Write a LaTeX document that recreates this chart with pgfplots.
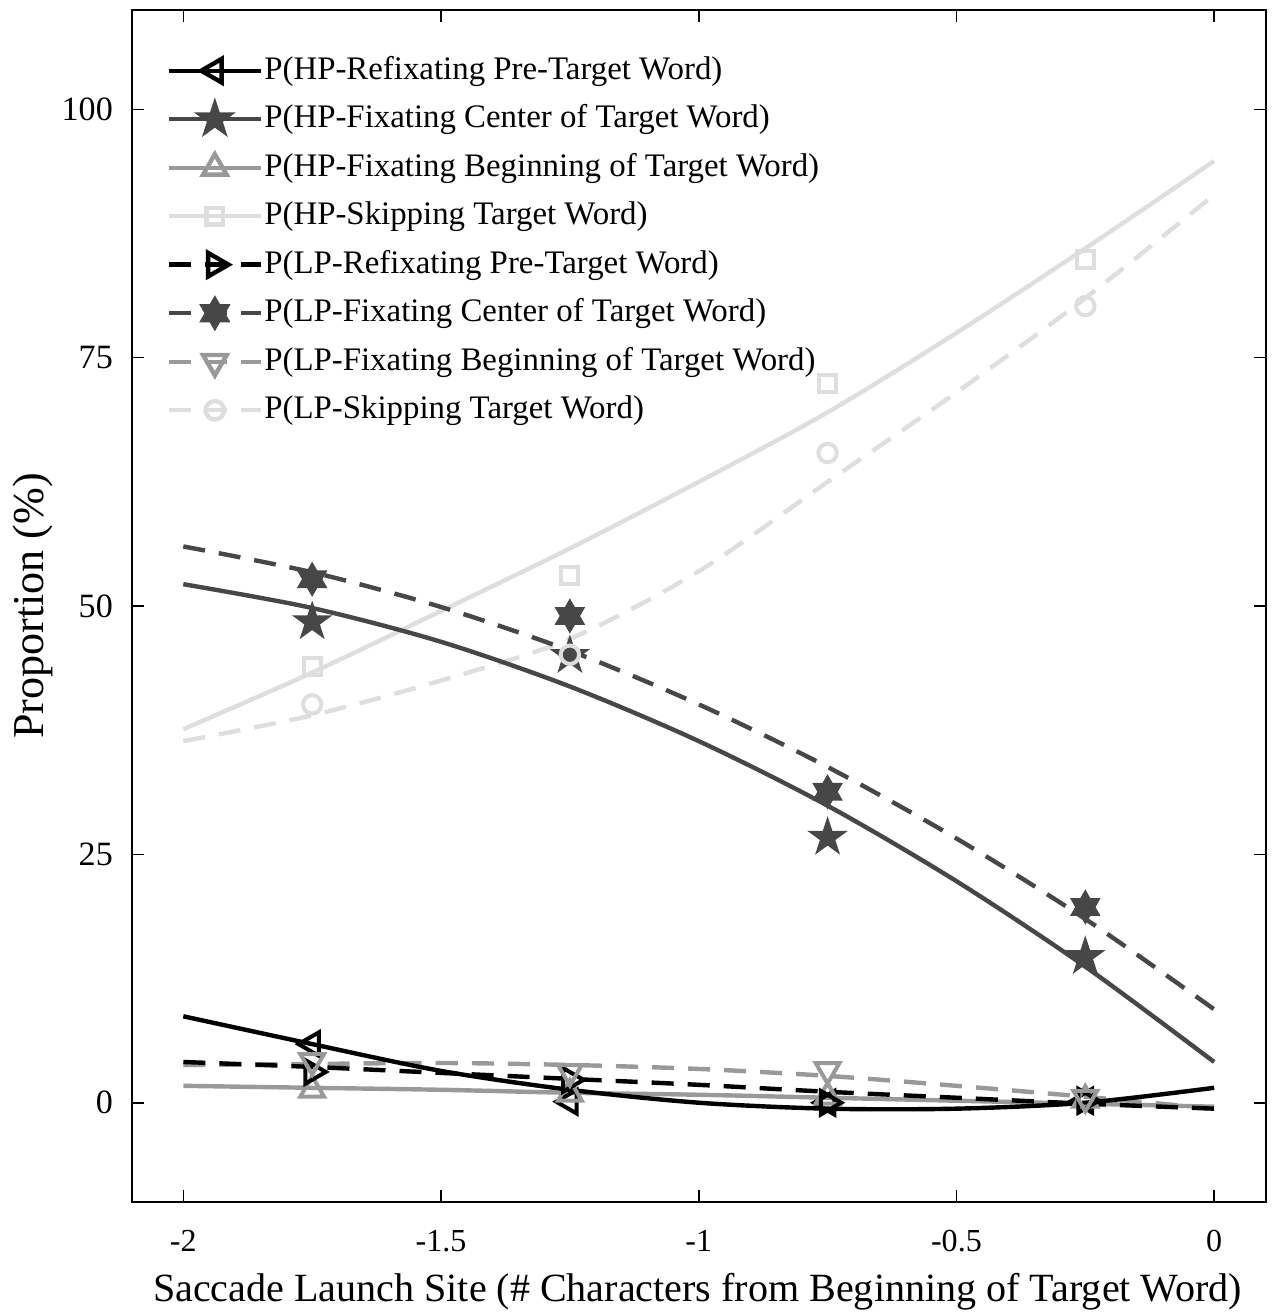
\documentclass[border=0pt]{standalone}
\usepackage{fontspec}
\setmainfont{Liberation Serif}
\usepackage{pgfplots}
\pgfplotsset{compat=1.18}

\definecolor{cA}{HTML}{000000}
\definecolor{cB}{HTML}{474747}
\definecolor{cC}{HTML}{999999}
\definecolor{cD}{HTML}{DEDEDE}

% filled star marks (MATLAB pentagram / hexagram)
\pgfdeclareplotmark{pentagram}{%
  \pgfpathmoveto{\pgfpointpolar{90}{\pgfplotmarksize}}%
  \pgfpathlineto{\pgfpointpolar{126}{0.382\pgfplotmarksize}}%
  \pgfpathlineto{\pgfpointpolar{162}{\pgfplotmarksize}}%
  \pgfpathlineto{\pgfpointpolar{198}{0.382\pgfplotmarksize}}%
  \pgfpathlineto{\pgfpointpolar{234}{\pgfplotmarksize}}%
  \pgfpathlineto{\pgfpointpolar{270}{0.382\pgfplotmarksize}}%
  \pgfpathlineto{\pgfpointpolar{306}{\pgfplotmarksize}}%
  \pgfpathlineto{\pgfpointpolar{342}{0.382\pgfplotmarksize}}%
  \pgfpathlineto{\pgfpointpolar{18}{\pgfplotmarksize}}%
  \pgfpathlineto{\pgfpointpolar{54}{0.382\pgfplotmarksize}}%
  \pgfpathclose
  \pgfusepathqfillstroke}
\pgfdeclareplotmark{hexagram}{%
  \pgfpathmoveto{\pgfpointpolar{90}{\pgfplotmarksize}}%
  \pgfpathlineto{\pgfpointpolar{120}{0.577\pgfplotmarksize}}%
  \pgfpathlineto{\pgfpointpolar{150}{\pgfplotmarksize}}%
  \pgfpathlineto{\pgfpointpolar{180}{0.577\pgfplotmarksize}}%
  \pgfpathlineto{\pgfpointpolar{210}{\pgfplotmarksize}}%
  \pgfpathlineto{\pgfpointpolar{240}{0.577\pgfplotmarksize}}%
  \pgfpathlineto{\pgfpointpolar{270}{\pgfplotmarksize}}%
  \pgfpathlineto{\pgfpointpolar{300}{0.577\pgfplotmarksize}}%
  \pgfpathlineto{\pgfpointpolar{330}{\pgfplotmarksize}}%
  \pgfpathlineto{\pgfpointpolar{0}{0.577\pgfplotmarksize}}%
  \pgfpathlineto{\pgfpointpolar{30}{\pgfplotmarksize}}%
  \pgfpathlineto{\pgfpointpolar{60}{0.577\pgfplotmarksize}}%
  \pgfpathclose
  \pgfusepathqfillstroke}

\pgfplotsset{
  fitline/.style={line width=1.1pt, smooth, mark=none},
  dsh/.style={dash pattern=on 5.5pt off 3.5pt},
  pts/.style={only marks, line width=1pt, mark options={solid}},
  mHPr/.style={mark=triangle, mark size=3.4pt, mark options={solid, rotate=90}},
  mLPr/.style={mark=triangle, mark size=3.4pt, mark options={solid, rotate=-90}},
  mHPb/.style={mark=triangle, mark size=3.4pt, mark options={solid}},
  mLPb/.style={mark=triangle, mark size=3.4pt, mark options={solid, rotate=180}},
  mHPc/.style={mark=pentagram, mark size=3.7pt, mark options={solid, fill=cB}},
  mLPc/.style={mark=hexagram, mark size=3.4pt, mark options={solid, fill=cB}},
  mHPs/.style={mark=square, mark size=2.1pt, mark options={solid}},
  mLPs/.style={mark=o, mark size=2.3pt, mark options={solid}},
}

\begin{document}
\begin{tikzpicture}
\begin{axis}[
  scale only axis, width=283pt, height=297.5pt,
  xmin=-2.1, xmax=0.1, ymin=-10, ymax=110,
  xtick={-2,-1.5,-1,-0.5,0}, ytick={0,25,50,75,100},
  tick align=inside, major tick length=3pt,
  axis line style={line width=0.5pt}, every tick/.style={black, line width=0.4pt},
  /pgf/number format/assume math mode=true,
  xticklabel style={font=\fontsize{8}{10}\selectfont, yshift=-3.6pt},
  yticklabel style={font=\fontsize{8.5}{10}\selectfont, xshift=-1.2pt},
  xlabel={Saccade Launch Site (\# Characters from Beginning of Target Word)},
  ylabel={Proportion (\%)},
  xlabel style={font=\fontsize{10}{12}\selectfont, inner sep=0.6pt,
    at={(axis description cs:0.499,-0.0756)}, anchor=center},
  ylabel style={font=\fontsize{11}{13}\selectfont,
    at={(axis description cs:-0.0868,0.5)}, anchor=center},
  legend style={at={(rel axis cs:0.0300,0.963)}, anchor=north west, draw=none, fill=none,
    inner sep=0pt, row sep=4.25pt, font=\fontsize{8.2}{10}\selectfont,
    nodes={inner sep=0.3pt}},
  legend cell align=left,
  legend image code/.code={\draw[mark repeat=2,mark phase=2] plot coordinates {(0pt,0pt) (11.5pt,0pt) (23pt,0pt)};},
]
% fitted curves
\addplot[fitline, cD, forget plot] coordinates {(-2,37.6) (-1.75,43.3) (-1.5,49.5) (-1.25,55.8) (-1,62.5) (-0.75,69.5) (-0.5,77.5) (-0.25,86.0) (0,94.8)};
\addplot[fitline, dsh, cD, forget plot] coordinates {(-2,36.4) (-1.75,39.0) (-1.5,42.5) (-1.25,46.7) (-1,53.5) (-0.75,62.5) (-0.5,71.5) (-0.25,81.0) (0,91.4)};
\addplot[fitline, cC, forget plot] coordinates {(-2,1.7) (-1.75,1.5) (-1.5,1.3) (-1.25,1.0) (-1,0.8) (-0.75,0.5) (-0.5,0.2) (-0.25,-0.1) (0,-0.4)};
\addplot[fitline, dsh, cC, forget plot] coordinates {(-2,3.8) (-1.75,3.9) (-1.5,4.0) (-1.25,3.8) (-1,3.4) (-0.75,2.7) (-0.5,1.7) (-0.25,0.6) (0,-0.6)};
\addplot[fitline, cB, forget plot] coordinates {(-2,52.2) (-1.75,49.8) (-1.5,46.4) (-1.25,41.9) (-1,36.4) (-0.75,29.9) (-0.5,22.3) (-0.25,13.7) (0,4.1)};
\addplot[fitline, dsh, cB, forget plot] coordinates {(-2,56.0) (-1.75,53.4) (-1.5,49.9) (-1.25,45.5) (-1,40.1) (-0.75,33.8) (-0.5,26.6) (-0.25,18.5) (0,9.4)};
\addplot[fitline, cA, forget plot] coordinates {(-2,8.7) (-1.75,5.9) (-1.5,3.2) (-1.25,1.3) (-1,0.0) (-0.75,-0.6) (-0.5,-0.6) (-0.25,0.0) (0,1.5)};
\addplot[fitline, dsh, cA, forget plot] coordinates {(-2,4.1) (-1.75,3.6) (-1.5,3.0) (-1.25,2.4) (-1,1.8) (-0.75,1.1) (-0.5,0.5) (-0.25,-0.1) (0,-0.6)};
% observed proportions
\addplot[pts, mHPr, cA, forget plot] coordinates {(-1.75,5.9) (-1.25,0.1) (-0.75,0.0) (-0.25,0.2)};
\addplot[pts, mHPc, cB, forget plot] coordinates {(-1.75,48.4) (-1.25,45.0) (-0.75,26.7) (-0.25,14.7)};
\addplot[pts, mHPb, cC, forget plot] coordinates {(-1.75,1.3) (-1.25,0.9) (-0.75,0.6) (-0.25,0.3)};
\addplot[pts, mHPs, cD, forget plot] coordinates {(-1.75,43.9) (-1.25,53.1) (-0.75,72.4) (-0.25,84.9)};
\addplot[pts, mLPr, cA, forget plot] coordinates {(-1.75,3.1) (-1.25,2.3) (-0.75,0.0) (-0.25,0.2)};
\addplot[pts, mLPc, cB, forget plot] coordinates {(-1.75,52.7) (-1.25,49.0) (-0.75,31.3) (-0.25,19.7)};
\addplot[pts, mLPb, cC, forget plot] coordinates {(-1.75,4.2) (-1.25,3.1) (-0.75,3.3) (-0.25,0.5)};
\addplot[pts, mLPs, cD, forget plot] coordinates {(-1.75,40.1) (-1.25,45.1) (-0.75,65.4) (-0.25,80.2)};
% legend
\addlegendimage{line width=1.1pt, cA, mHPr}
\addlegendentry{P(HP-Refixating Pre-Target Word)}
\addlegendimage{line width=1.1pt, cB, mHPc}
\addlegendentry{P(HP-Fixating Center of Target Word)}
\addlegendimage{line width=1.1pt, cC, mHPb}
\addlegendentry{P(HP-Fixating Beginning of Target Word)}
\addlegendimage{line width=1.1pt, cD, mHPs}
\addlegendentry{P(HP-Skipping Target Word)}
\addlegendimage{line width=1.1pt, dsh, cA, mLPr}
\addlegendentry{P(LP-Refixating Pre-Target Word)}
\addlegendimage{line width=1.1pt, dsh, cB, mLPc}
\addlegendentry{P(LP-Fixating Center of Target Word)}
\addlegendimage{line width=1.1pt, dsh, cC, mLPb}
\addlegendentry{P(LP-Fixating Beginning of Target Word)}
\addlegendimage{line width=1.1pt, dsh, cD, mLPs}
\addlegendentry{P(LP-Skipping Target Word)}
\end{axis}
\path (current axis.north east) ++(2pt,2.5pt);
\end{tikzpicture}
\end{document}
